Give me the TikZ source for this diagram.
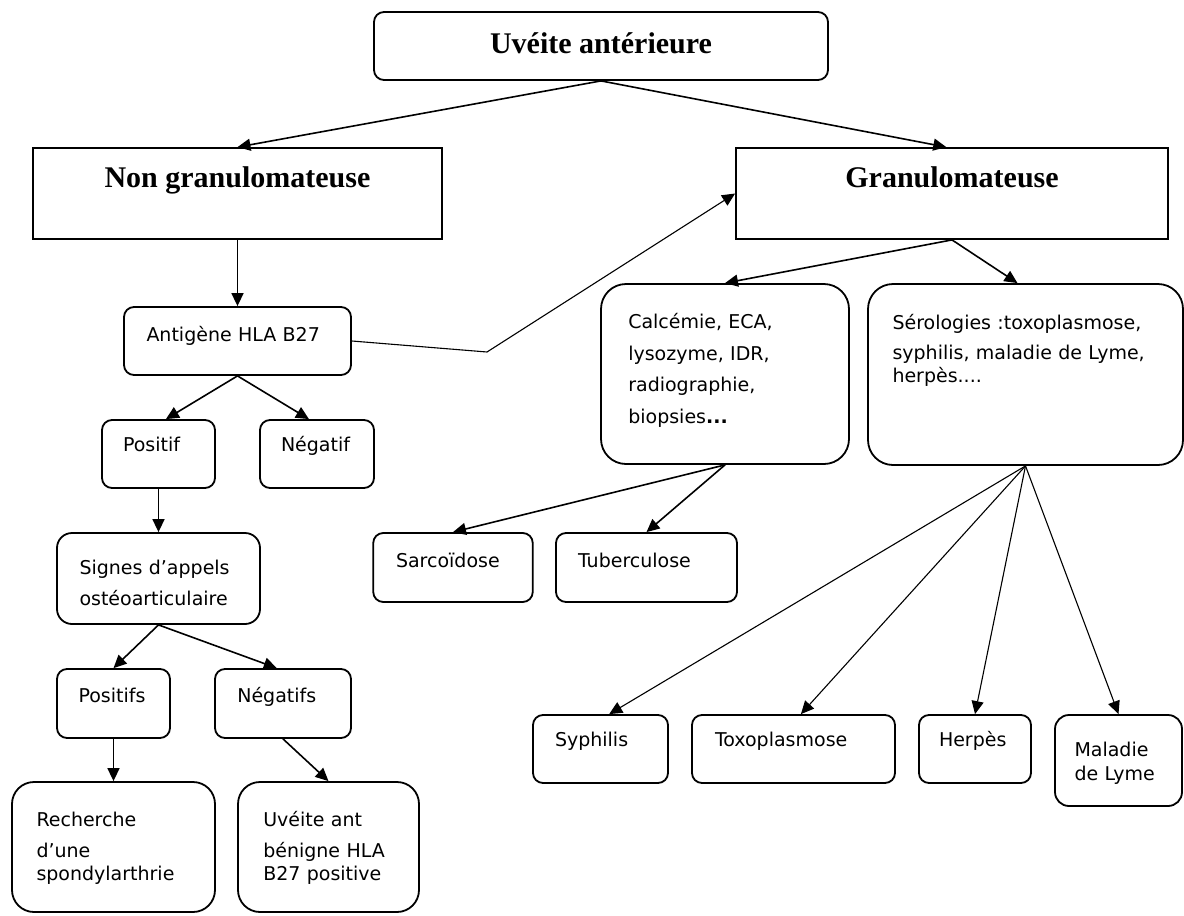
\documentclass[tikz,border=0pt]{standalone}
\usepackage{fontspec}
\setmainfont{DejaVu Sans}
\newfontfamily\headfont{Liberation Serif}
\usetikzlibrary{arrows.meta}

\begin{document}
\begin{tikzpicture}[
    x=1pt, y=-1pt,
    rbox/.style={draw, line width=1.8pt, rounded corners=10pt, align=left, inner sep=0pt, text height=15pt, font=\fontsize{19}{23.3}\selectfont},
    headbox/.style={rbox, align=center, text height=20pt, font=\headfont\bfseries\fontsize{30}{34}\selectfont},
    link/.style={-{Triangle[length=13pt, width=12pt]}, line width=1.6pt},
    thinlink/.style={link, line width=1.1pt},
]
\useasboundingbox (0,0) rectangle (1184,916);

% Top levels
\node[headbox, minimum width=454pt, minimum height=68pt, text depth=6pt] (uveite) at (601,46) {Uvéite antérieure};
\node[headbox, sharp corners, minimum width=409pt, minimum height=91pt, text depth=33pt] (nongran) at (237.5,193.5) {Non granulomateuse};
\node[headbox, sharp corners, minimum width=432pt, minimum height=91pt, text depth=33pt] (gran) at (952,193.5) {Granulomateuse};

% Non granulomateuse branch
\node[rbox, minimum width=227pt, minimum height=68pt, text width=182pt, text depth=15pt] (hla) at (237.5,341) {Antigène HLA B27};
\node[rbox, minimum width=113pt, minimum height=68pt, text width=71pt, text depth=19.6pt] (positif) at (158.5,454) {Positif};
\node[rbox, minimum width=114pt, minimum height=68pt, text width=72pt, text depth=19.6pt] (negatif) at (317,454) {Négatif};
\node[rbox, rounded corners=15pt, minimum width=203pt, minimum height=91pt, text width=158pt, text depth=24pt] (signes) at (158.5,578.5) {Signes d’appels\\[7.7pt]ostéoarticulaire};
\node[rbox, minimum width=113pt, minimum height=69pt, text width=70pt, text depth=16.6pt] (positifs) at (113.5,703.5) {Positifs};
\node[rbox, minimum width=136pt, minimum height=69pt, text width=91.4pt, text depth=16.6pt] (negatifs) at (283,703.5) {Négatifs};
\node[rbox, rounded corners=22pt, minimum width=203pt, minimum height=130pt, text width=154pt, text depth=57pt] (spondy) at (113.5,847) {Recherche\\[7.7pt]d’une\\spondylarthrie};
\node[rbox, rounded corners=22pt, minimum width=181pt, minimum height=130pt, text width=130.4pt, text depth=57pt] (benigne) at (328.5,847) {Uvéite ant\\[7.7pt]bénigne HLA\\B27 positive};

% Granulomateuse branch
\node[rbox, rounded corners=25pt, minimum width=248pt, minimum height=180pt, text width=193.4pt, text depth=106.4pt] (bilan) at (725,374) {Calcémie, ECA,\\[8.4pt]lysozyme, IDR,\\[8.4pt]radiographie,\\[8.4pt]biopsies{\bfseries...}};
\node[rbox, rounded corners=25pt, minimum width=315pt, minimum height=181pt, text width=266pt, text depth=106pt] (sero) at (1025.5,374.5) {Sérologies :toxoplasmose,\\[7pt]syphilis, maladie de Lyme,\\herpès....};
\node[rbox, minimum width=159.5pt, minimum height=69pt, text width=114pt, text depth=15.4pt] (sarco) at (453,567.5) {Sarcoïdose};
\node[rbox, minimum width=181pt, minimum height=69pt, text width=137pt, text depth=15.4pt] (tuber) at (646.5,567.5) {Tuberculose};
\node[rbox, minimum width=135pt, minimum height=68pt, text width=91pt, text depth=19.6pt] (syph) at (600.5,749) {Syphilis};
\node[rbox, minimum width=203pt, minimum height=68pt, text width=157pt, text depth=19.6pt] (toxo) at (793.5,749) {Toxoplasmose};
\node[rbox, minimum width=112pt, minimum height=68pt, text width=72pt, text depth=19.6pt] (herpes) at (975,749) {Herpès};
\node[rbox, rounded corners=14pt, minimum width=127pt, minimum height=91pt, text width=88pt, text depth=22.6pt] (lyme) at (1118.5,760.5) {Maladie\\de Lyme};

% Arrows
\draw[link] (uveite.south) -- (nongran.north);
\draw[link] (uveite.south) -- (gran.97);
\draw[link] (nongran.south) -- (hla.north);
\draw[link] (hla.south) -- (positif.78);
\draw[link] (hla.south) -- (negatif.103);
\draw[link] (positif.south) -- (signes.north);
\draw[link] (signes.south) -- (positifs.north);
\draw[link] (signes.south) -- (negatifs.100);
\draw[link] (positifs.south) -- (spondy.north);
\draw[link] (negatifs.south) -- (benigne.north);

\coordinate (hlabend) at (487,352);
\draw[thinlink] (hla.east) -- (hlabend) -- (gran.west);

\draw[link] (gran.south) -- (bilan.north);
\draw[link] (gran.south) -- (sero.95);
\draw[link] (bilan.south) -- (sarco.north);
\draw[link] (bilan.south) -- (tuber.north);

\draw[thinlink] (sero.south) -- (syph.76);
\draw[thinlink] (sero.south) -- (toxo.78);
\draw[thinlink] (sero.south) -- (herpes.north);
\draw[thinlink] (sero.south) -- (lyme.north);

\end{tikzpicture}
\end{document}
